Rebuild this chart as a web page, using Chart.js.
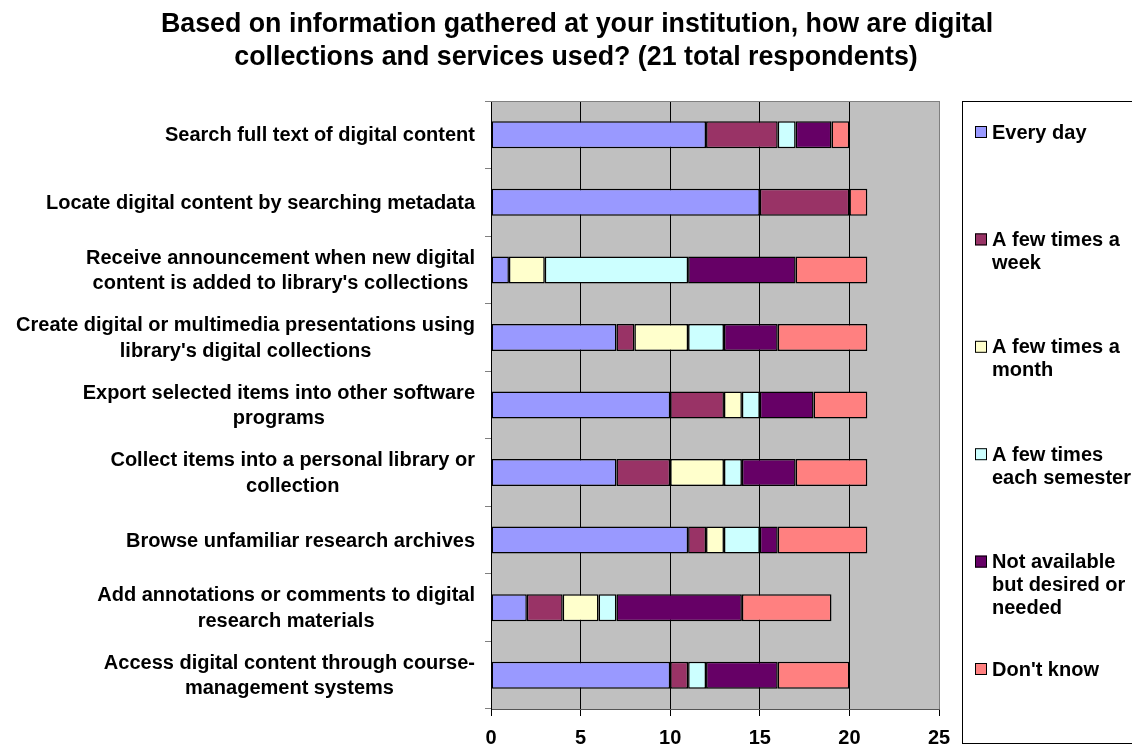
<!DOCTYPE html>
<html lang="en">
<head>
    <meta charset="UTF-8">
    <title>Digital collections usage</title>
    <script src="https://cdn.jsdelivr.net/npm/chart.js"></script>
    <style>
        html, body { margin: 0; padding: 0; background: #fff; }
        #wrap { width: 1132px; height: 746px; }
    </style>
</head>
<body>
    <div id="wrap"><canvas id="chart" width="1132" height="746"></canvas></div>
<script>
// ---------------- data ----------------
const titleLines = [
    'Based on information gathered at your institution, how are digital',
    'collections and services used? (21 total respondents)'
];

const questions = [
    ['Search full text of digital content'],
    ['Locate digital content by searching metadata'],
    ['Receive announcement when new digital', "content is added to library's collections"],
    ['Create digital or multimedia presentations using', "library's digital collections"],
    ['Export selected items into other software', 'programs'],
    ['Collect items into a personal library or', 'collection'],
    ['Browse unfamiliar research archives'],
    ['Add annotations or comments to digital', 'research materials'],
    ['Access digital content through course-', 'management systems']
];

const everyDay      = [12, 15, 1, 7, 10, 7, 11, 2, 10];
const fewWeek       = [4, 5, 0, 1, 3, 3, 1, 2, 1];
const fewMonth      = [0, 0, 2, 3, 1, 3, 1, 2, 0];
const fewSemester   = [1, 0, 8, 2, 1, 1, 2, 1, 1];
const notAvailable  = [2, 0, 6, 3, 3, 3, 1, 7, 4];
const dontKnow      = [1, 1, 4, 5, 3, 4, 5, 5, 4];

const legendLabels = [
    ['Every day'],
    ['A few times a', 'week'],
    ['A few times a', 'month'],
    ['A few times', 'each semester'],
    ['Not available', 'but desired or', 'needed'],
    ["Don't know"]
];
const colors = ['#9999FF', '#993366', '#FFFFCC', '#CCFFFF', '#660066', '#FF8080'];

const xTicks = [0, 5, 10, 15, 20, 25];

// ---------------- chart ----------------
const FONT = '"Liberation Sans", Arial, sans-serif';

const series = [everyDay, fewWeek, fewMonth, fewSemester, notAvailable, dontKnow];

const datasets = series.map((vals, i) => ({
    label: legendLabels[i].join(' '),
    data: vals,
    backgroundColor: colors[i],
    borderColor: '#000',
    borderWidth: 1.5,
    borderSkipped: false,
    barPercentage: 0.4,
    categoryPercentage: 1.0
}));

// draws background, title, category labels and the legend box
const decorations = {
    id: 'decorations',
    beforeDraw(chart) {
        const {ctx, chartArea: a} = chart;
        ctx.save();
        ctx.fillStyle = '#C0C0C0';
        ctx.fillRect(a.left, a.top, a.right - a.left, a.bottom - a.top);
        ctx.restore();
    },
    afterDraw(chart) {
        const {ctx, chartArea: a} = chart;
        const yScale = chart.scales.y;
        ctx.save();

        // top border of plot
        ctx.strokeStyle = '#808080';
        ctx.lineWidth = 1;
        ctx.beginPath();
        ctx.moveTo(a.left, a.top + 0.5);
        ctx.lineTo(a.right, a.top + 0.5);
        ctx.stroke();

        // title
        ctx.fillStyle = '#000';
        ctx.font = 'bold 26.8px ' + FONT;
        ctx.textAlign = 'center';
        ctx.textBaseline = 'alphabetic';
        ctx.fillText(titleLines[0], 577, 32);
        ctx.fillText(titleLines[1], 576, 65);

        // category labels: block right aligned, lines centred
        ctx.font = 'bold 20px ' + FONT;
        ctx.textBaseline = 'middle';
        const lh = 25.5;
        questions.forEach((lines, i) => {
            const yc = yScale.getPixelForValue(i);
            const w = Math.max(...lines.map(l => ctx.measureText(l).width));
            const cx = 475 - w / 2;
            const y0 = yc - (lines.length - 1) * lh / 2;
            lines.forEach((l, j) => ctx.fillText(l, cx, y0 + j * lh + 1));
        });

        // legend box
        ctx.strokeStyle = '#000';
        ctx.lineWidth = 1;
        ctx.strokeRect(962.5, 101.5, 200, 642);
        ctx.textAlign = 'left';
        legendLabels.forEach((lines, i) => {
            const y = 132 + i * 107.4;
            ctx.fillStyle = colors[i];
            ctx.fillRect(975, y - 6, 12, 12);
            ctx.strokeRect(975.5, y - 5.5, 11, 11);
            ctx.fillStyle = '#000';
            lines.forEach((l, j) => ctx.fillText(l, 992, y + 1 + j * 23));
        });
        ctx.restore();
    }
};

new Chart(document.getElementById('chart'), {
    type: 'bar',
    data: { labels: questions.map(q => q.join(' ')), datasets: datasets },
    options: {
        indexAxis: 'y',
        responsive: false,
        animation: false,
        layout: { padding: { top: 101, right: 193, left: 0, bottom: 0 } },
        plugins: {
            legend: { display: false },
            title: { display: false },
            tooltip: { enabled: false }
        },
        scales: {
            x: {
                stacked: true,
                min: 0,
                max: 25,
                afterBuildTicks: s => { s.ticks = xTicks.map(v => ({value: v})); },
                afterFit: s => { s.height = 37; },
                ticks: { color: '#000', font: { family: FONT, size: 20, weight: 'bold' }, padding: 10 },
                grid: {
                    color: c => (c.tick && c.tick.value === 25) ? '#808080' : '#000',
                    lineWidth: 1,
                    tickLength: 7,
                    tickColor: '#000'
                },
                border: { color: '#555', width: 1 }
            },
            y: {
                stacked: true,
                afterFit: s => { s.width = 491; },
                ticks: { display: false },
                grid: { offset: true, drawOnChartArea: false, tickLength: 6, tickColor: '#808080' },
                border: { color: '#000', width: 1 }
            }
        }
    },
    plugins: [decorations]
});
</script>
</body>
</html>
